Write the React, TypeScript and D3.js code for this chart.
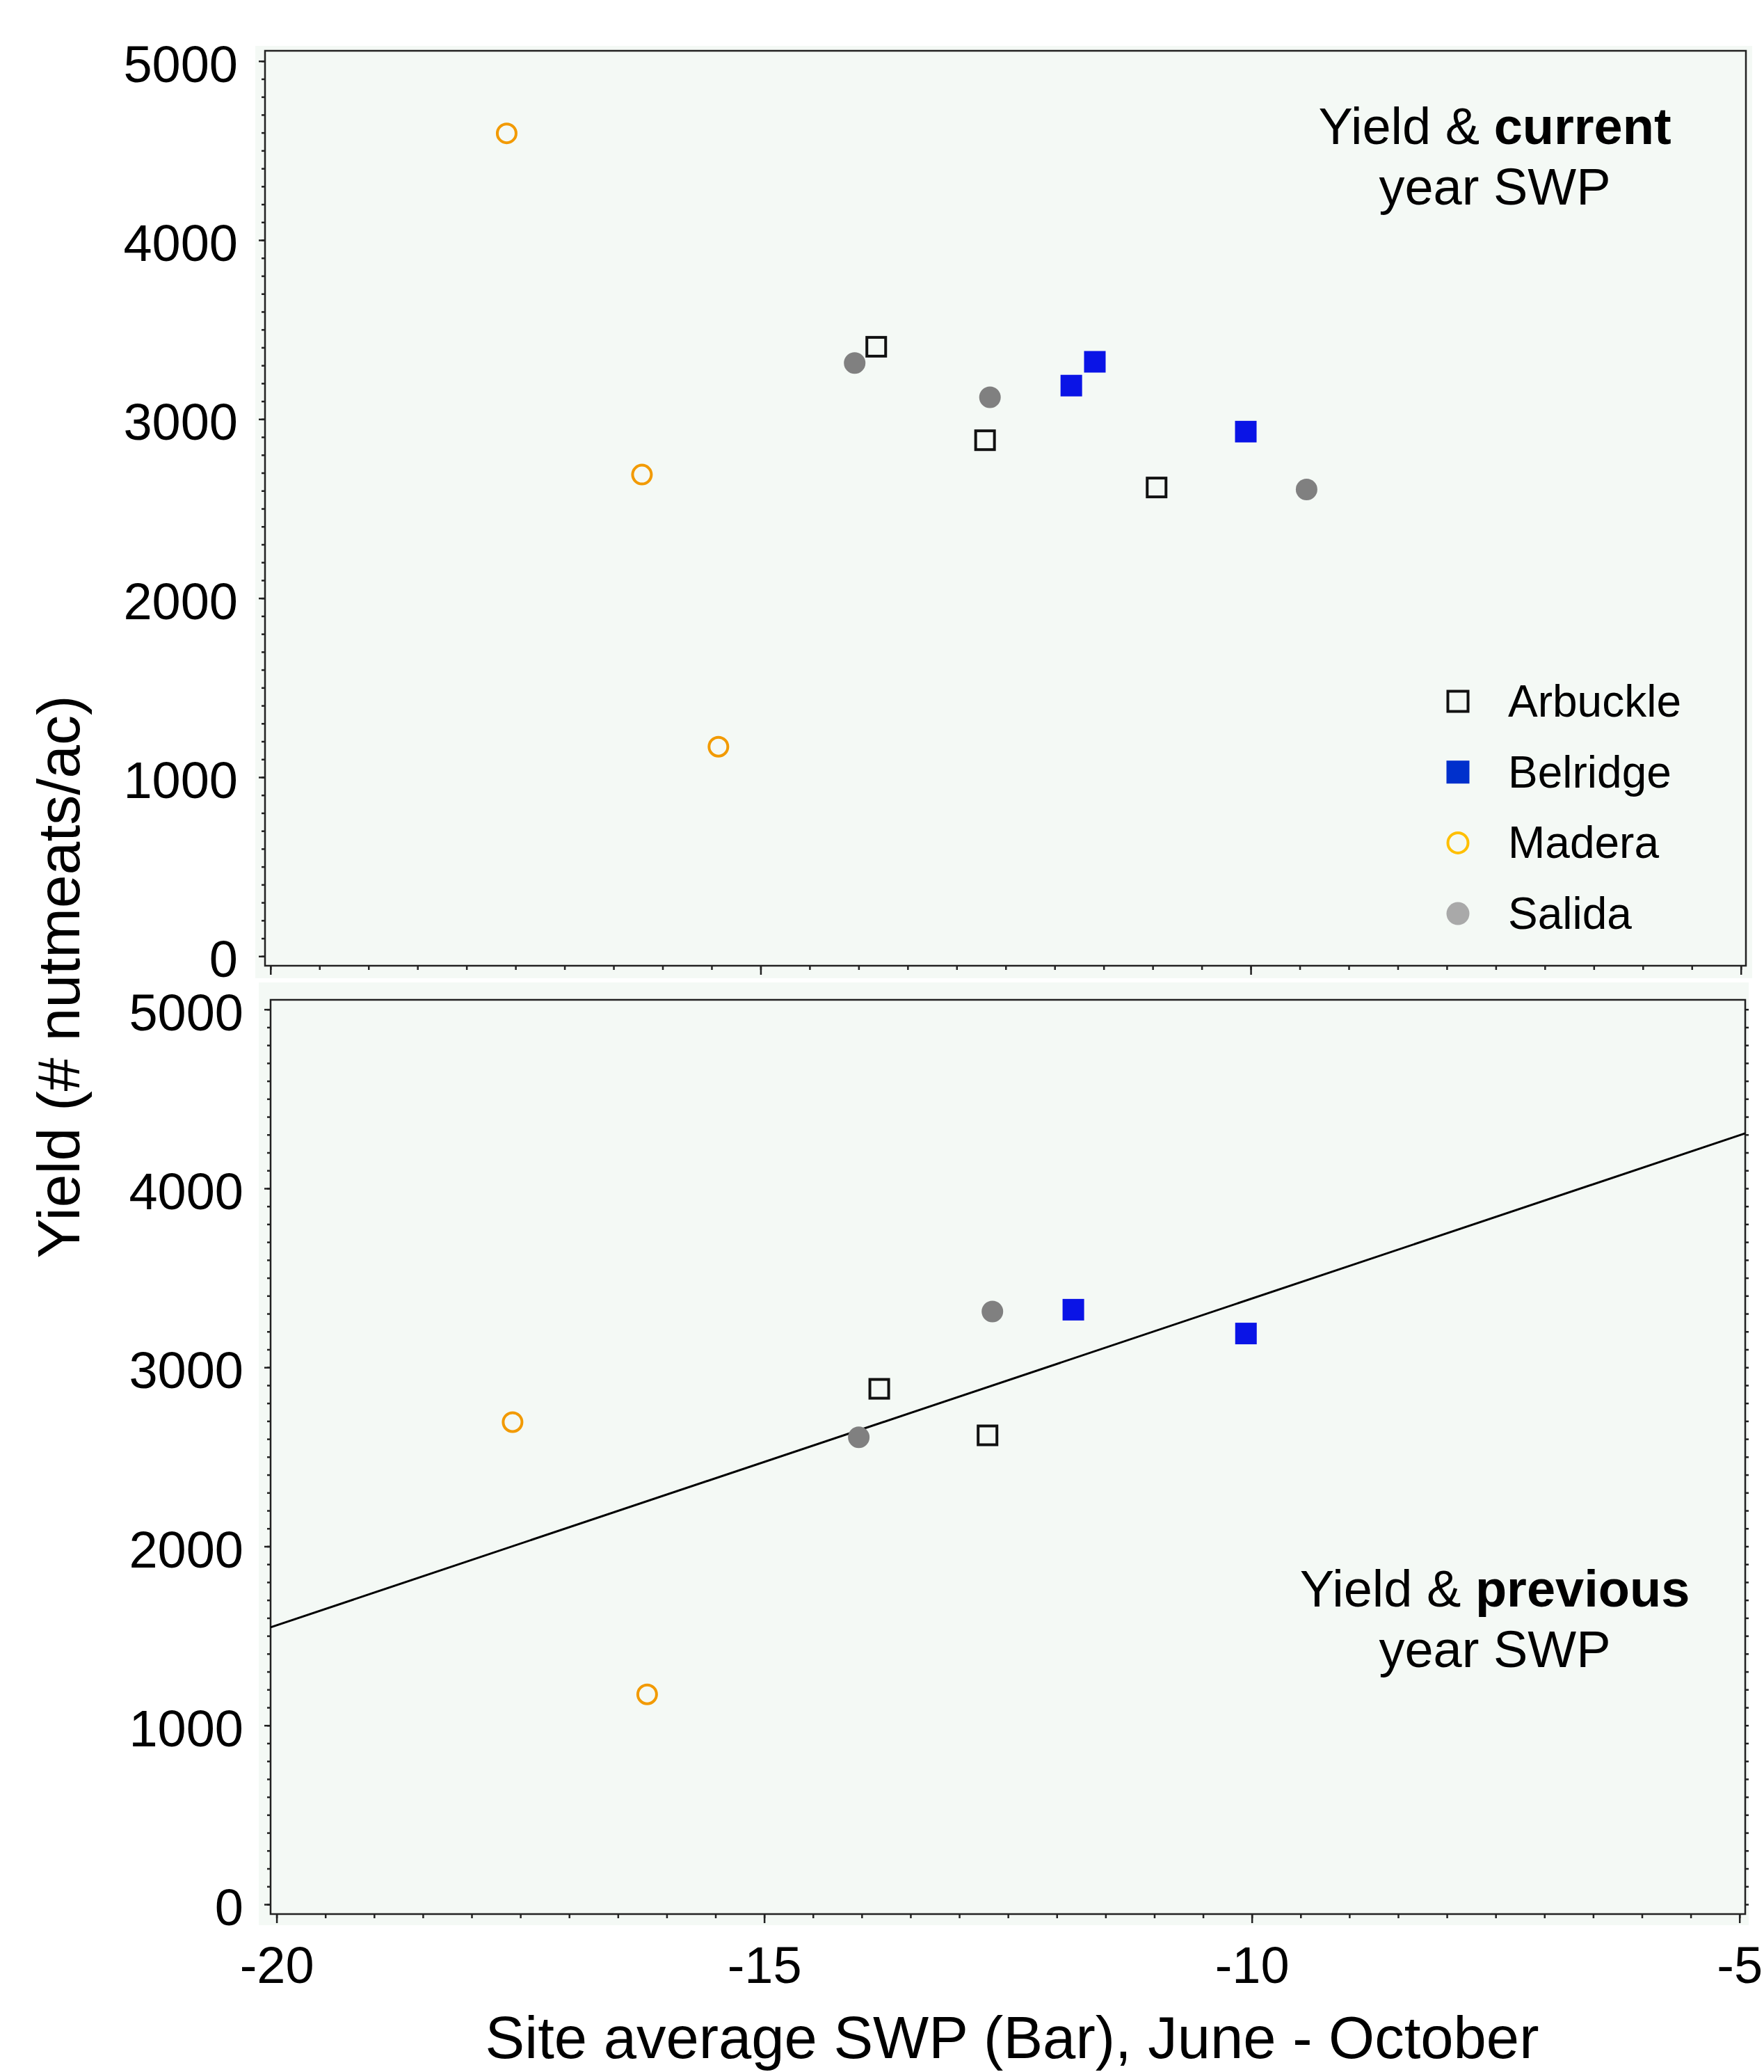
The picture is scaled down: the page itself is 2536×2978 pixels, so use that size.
import React, { useEffect, useRef } from "react";
import * as d3 from "d3";

const W = 2536;
const H = 2978;
const FONT = "'Liberation Sans', Arial, Helvetica, sans-serif";

const sites = ["Arbuckle", "Belridge", "Madera", "Salida"];

// yield vs current year SWP (bar, # nutmeats/ac)
const arbuckleCurSwp = [-13.82, -12.71, -10.96];
const arbuckleCurYield = [3404, 2882, 2618];
const belridgeCurSwp = [-11.83, -11.59, -10.05];
const belridgeCurYield = [3187, 3320, 2930];
const maderaCurSwp = [-17.59, -16.21, -15.43];
const maderaCurYield = [4596, 2690, 1170];
const salidaCurSwp = [-14.04, -12.66, -9.43];
const salidaCurYield = [3313, 3122, 2607];

// yield vs previous year SWP
const arbucklePrevSwp = [-13.82, -12.71];
const arbucklePrevYield = [2880, 2620];
const belridgePrevSwp = [-11.83, -10.06];
const belridgePrevYield = [3322, 3189];
const maderaPrevSwp = [-17.58, -16.2];
const maderaPrevYield = [2694, 1173];
const salidaPrevSwp = [-14.03, -12.66];
const salidaPrevYield = [2609, 3312];

const xDomain = [-20, -5];
const yDomain = [0, 5000];
const xMajor = [-20, -15, -10, -5];
const yMajor = [0, 1000, 2000, 3000, 4000, 5000];
const xMinor = d3.range(-20, -4.99, 0.5);
const yMinor = d3.range(0, 5001, 100);

const toPoints = (site, swp, yld) => swp.map((s, i) => ({ site, swp: s, yld: yld[i] }));

const currentPoints = [
  ...toPoints("Arbuckle", arbuckleCurSwp, arbuckleCurYield),
  ...toPoints("Belridge", belridgeCurSwp, belridgeCurYield),
  ...toPoints("Madera", maderaCurSwp, maderaCurYield),
  ...toPoints("Salida", salidaCurSwp, salidaCurYield)
];
const previousPoints = [
  ...toPoints("Arbuckle", arbucklePrevSwp, arbucklePrevYield),
  ...toPoints("Belridge", belridgePrevSwp, belridgePrevYield),
  ...toPoints("Madera", maderaPrevSwp, maderaPrevYield),
  ...toPoints("Salida", salidaPrevSwp, salidaPrevYield)
];

const plotColor = { Arbuckle: "#111", Belridge: "#0a14e6", Madera: "#f29a00", Salida: "#808080" };
const legendColor = { Arbuckle: "#111", Belridge: "#0030cc", Madera: "#ffbf00", Salida: "#a9a9a9" };

const panels = [
  {
    key: "current",
    frame: { x0: 381, x1: 2510, y0: 73, y1: 1388 },
    bg: { x0: 367, x1: 2519, y0: 66, y1: 1406 },
    xr: [388.8, 2502.7],
    yr: [1374.3, 87.7],
    data: currentPoints,
    fit: false,
    rightTicks: false,
    xLabels: false,
    bold: "current",
    noteX: 2149,
    noteY: 207,
    legend: true
  },
  {
    key: "previous",
    frame: { x0: 389, x1: 2509, y0: 1437, y1: 2751 },
    bg: { x0: 372, x1: 2514, y0: 1412, y1: 2767 },
    xr: [397.6, 2500.7],
    yr: [2737, 1450.7],
    data: previousPoints,
    fit: true,
    rightTicks: true,
    xLabels: true,
    bold: "previous",
    noteX: 2149,
    noteY: 2309,
    legend: false
  }
];

// plain hyphen labels, as in the original figure
const numLabel = d => String(d);

// draw one marker of a site at (cx, cy)
const drawMarker = (g, site, cx, cy, size, colors) => {
  const h = size / 2;
  if (site === "Arbuckle") {
    g.append("rect").attr("x", cx - h + 2).attr("y", cy - h + 2)
      .attr("width", size - 4).attr("height", size - 4)
      .attr("fill", "none").attr("stroke", colors[site]).attr("stroke-width", 4);
  } else if (site === "Belridge") {
    g.append("rect").attr("x", cx - h).attr("y", cy - h)
      .attr("width", size).attr("height", size).attr("fill", colors[site]);
  } else if (site === "Madera") {
    g.append("circle").attr("cx", cx).attr("cy", cy).attr("r", h - 2)
      .attr("fill", "none").attr("stroke", colors[site]).attr("stroke-width", 4);
  } else {
    g.append("circle").attr("cx", cx).attr("cy", cy).attr("r", h).attr("fill", colors[site]);
  }
};

const styleAxis = a => {
  a.select(".domain").remove();
  a.selectAll("line").attr("stroke", "#222").attr("stroke-width", 2.5);
  a.selectAll("text").attr("fill", "#000").attr("font-family", FONT).attr("font-size", 74);
  a.attr("font-family", null).attr("font-size", null);
};

const App = () => {
  const ref = useRef(null);

  useEffect(() => {
    const svg = d3.select(ref.current);
    svg.selectAll("*").remove();
    svg.append("rect").attr("width", W).attr("height", H).attr("fill", "#fff");

    panels.forEach(p => {
      const x = d3.scaleLinear().domain(xDomain).range(p.xr);
      const y = d3.scaleLinear().domain(yDomain).range(p.yr);
      const f = p.frame;
      const g = svg.append("g").attr("class", p.key);

      g.append("rect")
        .attr("x", p.bg.x0).attr("y", p.bg.y0)
        .attr("width", p.bg.x1 - p.bg.x0).attr("height", p.bg.y1 - p.bg.y0)
        .attr("fill", "#f4f9f5");

      // y ticks, left
      g.append("g").attr("transform", `translate(${f.x0},0)`)
        .call(d3.axisLeft(y).tickValues(yMinor).tickSize(5).tickFormat(() => ""))
        .call(styleAxis);
      g.append("g").attr("transform", `translate(${f.x0},0)`)
        .call(d3.axisLeft(y).tickValues(yMajor).tickSize(9).tickPadding(30).tickFormat(numLabel))
        .call(styleAxis)
        .call(a => a.selectAll("text").attr("dy", "0.4em"));

      if (p.rightTicks) {
        g.append("g").attr("transform", `translate(${f.x1},0)`)
          .call(d3.axisRight(y).tickValues(yMinor).tickSize(5).tickFormat(() => ""))
          .call(styleAxis);
      }

      // x ticks, bottom
      g.append("g").attr("transform", `translate(0,${f.y1})`)
        .call(d3.axisBottom(x).tickValues(xMinor).tickSize(6).tickFormat(() => ""))
        .call(styleAxis);
      g.append("g").attr("transform", `translate(0,${f.y1})`)
        .call(d3.axisBottom(x).tickValues(xMajor).tickSize(13).tickPadding(33)
          .tickFormat(p.xLabels ? numLabel : () => ""))
        .call(styleAxis);

      g.append("rect")
        .attr("x", f.x0).attr("y", f.y0)
        .attr("width", f.x1 - f.x0).attr("height", f.y1 - f.y0)
        .attr("fill", "none").attr("stroke", "#222").attr("stroke-width", 2.5);

      if (p.fit) {
        const mx = d3.mean(p.data, d => d.swp);
        const my = d3.mean(p.data, d => d.yld);
        const sxy = d3.sum(p.data, d => (d.swp - mx) * (d.yld - my));
        const sxx = d3.sum(p.data, d => (d.swp - mx) ** 2);
        const slope = sxy / sxx;
        const fx = [x.invert(f.x0), x.invert(f.x1)];
        const line = d3.line().x(d => x(d)).y(d => y(my + slope * (d - mx)));
        g.append("path").attr("d", line(fx))
          .attr("fill", "none").attr("stroke", "#000").attr("stroke-width", 3);
      }

      const marks = g.append("g");
      p.data.forEach(d => drawMarker(marks, d.site, x(d.swp), y(d.yld), 31, plotColor));

      const note = g.append("text")
        .attr("x", p.noteX).attr("y", p.noteY)
        .attr("text-anchor", "middle")
        .attr("font-family", FONT).attr("font-size", 74);
      note.append("tspan").text("Yield & ");
      note.append("tspan").attr("font-weight", "bold").text(p.bold);
      g.append("text")
        .attr("x", p.noteX).attr("y", p.noteY + 87)
        .attr("text-anchor", "middle")
        .attr("font-family", FONT).attr("font-size", 74)
        .text("year SWP");

      if (p.legend) {
        const lg = g.append("g");
        sites.forEach((s, i) => {
          const cy = 1008 + i * 101.7;
          drawMarker(lg, s, 2096, cy, 33, legendColor);
          lg.append("text").attr("x", 2168).attr("y", cy + 22)
            .attr("font-family", FONT).attr("font-size", 64).text(s);
        });
      }
    });

    svg.append("text")
      .attr("transform", "translate(114,1404) rotate(-90)")
      .attr("text-anchor", "middle")
      .attr("font-family", FONT).attr("font-size", 86)
      .text("Yield (# nutmeats/ac)");

    svg.append("text")
      .attr("x", 1455).attr("y", 2958)
      .attr("text-anchor", "middle")
      .attr("font-family", FONT).attr("font-size", 85)
      .text("Site average SWP (Bar), June - October");
  }, []);

  return (
    <svg
      ref={ref}
      width={W}
      height={H}
      style={{ position: "absolute", left: 0, top: 0, display: "block" }}
    />
  );
};

export default App;
